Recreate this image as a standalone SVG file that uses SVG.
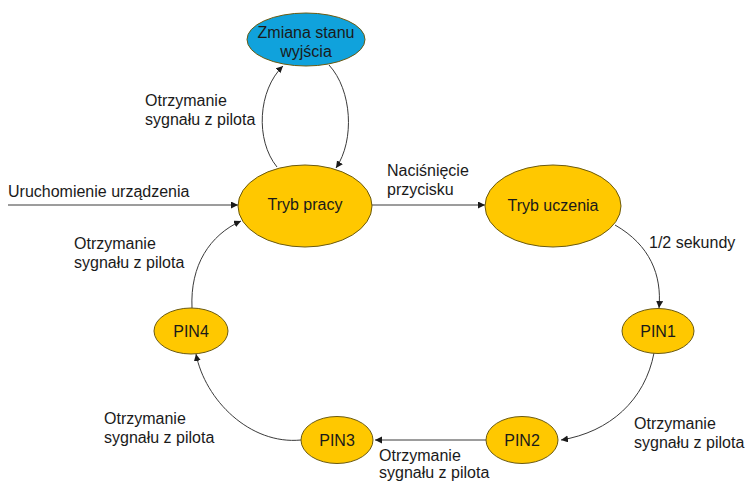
<svg xmlns="http://www.w3.org/2000/svg" width="749" height="482" viewBox="0 0 749 482">
  <style>
    text { font-family: "Liberation Sans", Arial, sans-serif; font-size: 16px; fill: #1a1a1a; }
    .node text { text-anchor: middle; }
    .state { fill: #FFC800; stroke: #6b5a10; stroke-width: 1; }
    .output { fill: #10A2DC; stroke: #6b5a10; stroke-width: 1; }
    .edge { fill: none; stroke: #3a3a3a; stroke-width: 1; marker-end: url(#arrow); }
  </style>
  <defs>
    <marker id="arrow" markerUnits="userSpaceOnUse" markerWidth="8" markerHeight="8" refX="7" refY="3.5" orient="auto">
      <path d="M0,0 L7,3.5 L0,7 z" fill="#1a1a1a"/>
    </marker>
  </defs>
  <rect width="749" height="482" fill="#ffffff"/>

  <!-- transitions -->
  <g id="connectors">
    <path class="edge" d="M277,167 C255,140 258,90 283,66"/>
    <path class="edge" d="M329,65 C352,90 355,140 336,168"/>
    <path class="edge" d="M8,205 L238,205"/>
    <path class="edge" d="M372,205 L485,205"/>
    <path class="edge" d="M615,225 C650,245 662,275 659,308"/>
    <path class="edge" d="M654,353 C645,400 610,432 561,440"/>
    <path class="edge" d="M486,440 L375,440"/>
    <path class="edge" d="M301,440 C250,445 205,400 196,354"/>
    <path class="edge" d="M192,308 C190,265 210,235 241,221"/>
  </g>

  <!-- transition labels -->
  <g id="labels">
    <text x="145" y="106">Otrzymanie</text>
    <text x="145" y="125">sygnału z pilota</text>
    <text x="8" y="197">Uruchomienie urządzenia</text>
    <text x="387" y="176">Naciśnięcie</text>
    <text x="387" y="195">przycisku</text>
    <text x="649" y="248">1/2 sekundy</text>
    <text x="634" y="429">Otrzymanie</text>
    <text x="634" y="448">sygnału z pilota</text>
    <text x="379" y="461">Otrzymanie</text>
    <text x="379" y="478">sygnału z pilota</text>
    <text x="104" y="424">Otrzymanie</text>
    <text x="104" y="443">sygnału z pilota</text>
    <text x="74" y="249">Otrzymanie</text>
    <text x="74" y="268">sygnału z pilota</text>
  </g>

  <!-- states -->
  <g id="zmiana-stanu" class="node">
    <ellipse class="output" cx="306" cy="39.5" rx="59" ry="26.5"/>
    <text x="306" y="38">Zmiana stanu</text>
    <text x="306" y="57">wyjścia</text>
  </g>
  <g id="tryb-pracy" class="node">
    <ellipse class="state" cx="305" cy="206" rx="67" ry="41"/>
    <text x="305" y="210">Tryb pracy</text>
  </g>
  <g id="tryb-uczenia" class="node">
    <ellipse class="state" cx="553" cy="206" rx="68" ry="41"/>
    <text x="553" y="211">Tryb uczenia</text>
  </g>
  <g id="pin1" class="node">
    <ellipse class="state" cx="658" cy="331" rx="36" ry="22.5"/>
    <text x="658" y="337">PIN1</text>
  </g>
  <g id="pin2" class="node">
    <ellipse class="state" cx="522" cy="440" rx="36" ry="23.5"/>
    <text x="522" y="446">PIN2</text>
  </g>
  <g id="pin3" class="node">
    <ellipse class="state" cx="337" cy="440" rx="36" ry="23.5"/>
    <text x="337" y="446">PIN3</text>
  </g>
  <g id="pin4" class="node">
    <ellipse class="state" cx="191" cy="331" rx="37" ry="23"/>
    <text x="191" y="337">PIN4</text>
  </g>
</svg>
